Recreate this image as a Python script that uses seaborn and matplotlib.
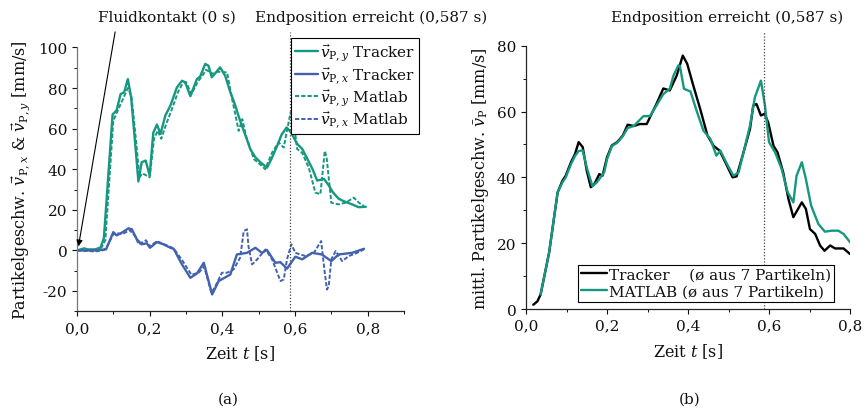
import matplotlib
matplotlib.use("Agg")
import matplotlib.pyplot as plt
import pandas as pd
import seaborn as sns
from matplotlib.ticker import MultipleLocator, FixedLocator, FixedFormatter

# ---------------------------------------------------------------- data
# (a) single particle, velocity components [mm/s] over time [s]
t_vy_tracker = [0.0, 0.02, 0.03, 0.05, 0.065, 0.074, 0.098, 0.109, 0.12, 0.13, 0.14,
                0.149, 0.16, 0.169, 0.178, 0.189, 0.2, 0.21, 0.22, 0.23, 0.243, 0.257,
                0.275, 0.289, 0.298, 0.312, 0.33, 0.339, 0.353, 0.362, 0.371, 0.381,
                0.394, 0.408, 0.422, 0.436, 0.445, 0.454, 0.465, 0.477, 0.491, 0.505,
                0.523, 0.535, 0.551, 0.563, 0.577, 0.589, 0.606, 0.62, 0.634, 0.648,
                0.661, 0.68, 0.693, 0.705, 0.72, 0.735, 0.757, 0.775, 0.795]
vy_tracker = [0.0, 1.0, 0.5, 0.5, 1.5, 6.0, 67.0, 69.0, 77.0, 78.0, 84.4,
              75.4, 53.0, 34.0, 43.4, 44.3, 37.0, 58.0, 62.0, 57.4, 66.4, 71.3,
              80.3, 83.6, 82.8, 76.0, 84.4, 85.7, 91.9, 91.0, 85.3, 87.4,
              90.2, 86.0, 78.0, 71.3, 66.0, 61.4, 56.0, 49.9, 45.9, 43.4,
              40.8, 45.0, 51.5, 57.0, 60.6, 58.2, 52.5, 50.0, 45.1, 40.2,
              34.4, 35.2, 32.0, 28.5, 25.5, 24.2, 22.7, 21.3, 21.5]

t_vy_matlab = [0.0, 0.03, 0.05, 0.065, 0.078, 0.1, 0.11, 0.125, 0.14, 0.15, 0.162,
               0.172, 0.18, 0.19, 0.2, 0.212, 0.222, 0.232, 0.245, 0.26, 0.278, 0.29,
               0.3, 0.315, 0.332, 0.345, 0.355, 0.365, 0.375, 0.385, 0.395, 0.413,
               0.427, 0.445, 0.455, 0.465, 0.487, 0.509, 0.518, 0.537, 0.555, 0.569,
               0.578, 0.588, 0.594, 0.606, 0.62, 0.638, 0.656, 0.67, 0.677, 0.682,
               0.687, 0.7, 0.72, 0.739, 0.762, 0.776, 0.79]
vy_matlab = [0.0, 0.0, -0.5, 0.5, 5.0, 64.0, 68.0, 74.0, 80.0, 76.0, 55.0,
             36.0, 38.0, 37.0, 36.0, 55.0, 59.0, 55.0, 62.0, 69.0, 78.0, 82.0,
             83.0, 77.0, 83.0, 86.0, 89.0, 88.0, 87.0, 88.0, 88.0, 87.7,
             74.6, 58.9, 64.7, 56.5, 45.0, 41.6, 40.0, 48.2, 53.2, 50.7,
             59.0, 68.0, 67.0, 50.0, 48.0, 40.8, 28.5, 27.7, 40.0, 49.0,
             46.0, 23.5, 22.7, 23.5, 26.0, 23.5, 21.9]

t_vx_tracker = [0.0, 0.05, 0.07, 0.08, 0.1, 0.109, 0.123, 0.142, 0.151, 0.165, 0.178,
                0.192, 0.201, 0.22, 0.238, 0.257, 0.266, 0.289, 0.312, 0.33, 0.349,
                0.372, 0.39, 0.422, 0.44, 0.468, 0.491, 0.509, 0.523, 0.546, 0.56,
                0.578, 0.601, 0.62, 0.647, 0.674, 0.7, 0.72, 0.757, 0.79]
vx_tracker = [0.0, 0.0, 0.3, 0.5, 9.0, 7.4, 8.7, 10.9, 10.4, 5.4, 3.0,
              3.5, 1.3, 4.1, 3.0, 1.3, 0.8, -6.9, -13.5, -11.4, -6.1,
              -21.7, -15.1, -11.9, -2.0, -1.2, 1.3, -1.2, 0.2, -6.1, -5.8,
              -9.0, -3.1, -4.4, -1.2, -2.0, -5.3, -2.0, -1.2, 0.8]

t_vx_matlab = [0.0, 0.05, 0.07, 0.08, 0.1, 0.11, 0.125, 0.145, 0.16, 0.17, 0.19,
               0.2, 0.22, 0.24, 0.26, 0.27, 0.29, 0.315, 0.335, 0.35, 0.37, 0.381,
               0.399, 0.413, 0.431, 0.449, 0.459, 0.468, 0.472, 0.482, 0.496, 0.519,
               0.537, 0.56, 0.569, 0.578, 0.59, 0.601, 0.629, 0.652, 0.672, 0.682,
               0.688, 0.693, 0.7, 0.712, 0.73, 0.748, 0.771, 0.79]
vx_matlab = [0.0, -0.5, 0.0, 1.0, 8.0, 8.5, 8.0, 10.0, 7.0, 3.0, 5.0,
             2.0, 4.5, 3.0, 1.5, 0.0, -5.0, -12.0, -11.0, -8.0, -21.0, -17.6,
             -11.0, -11.0, -9.4, -3.6, 9.5, 10.4, 2.0, -6.9, -4.4, 0.5,
             -4.4, -15.1, -14.3, -4.4, 3.0, -1.2, -2.8, -1.2, 4.6, -11.0,
             -19.3, -17.6, -4.4, -0.3, -5.3, -2.8, -1.2, 0.5]

# (b) mean particle speed (7 particles) [mm/s]
t_mean_tracker = [0.018, 0.028, 0.036, 0.057, 0.078, 0.09, 0.098, 0.111, 0.121, 0.13,
                  0.14, 0.15, 0.16, 0.169, 0.181, 0.189, 0.2, 0.212, 0.225, 0.239,
                  0.251, 0.266, 0.281, 0.298, 0.322, 0.339, 0.355, 0.372, 0.387,
                  0.398, 0.413, 0.43, 0.448, 0.463, 0.478, 0.494, 0.51, 0.52, 0.537,
                  0.553, 0.561, 0.569, 0.58, 0.589, 0.598, 0.611, 0.621, 0.635,
                  0.648, 0.66, 0.681, 0.691, 0.701, 0.714, 0.726, 0.737, 0.751,
                  0.763, 0.784, 0.8]
mean_tracker = [1.3, 2.3, 4.4, 17.1, 35.4, 39.0, 40.5, 44.6, 47.1, 50.7,
                49.2, 42.0, 37.0, 38.0, 41.0, 40.5, 46.1, 49.7, 50.7, 52.7,
                56.0, 55.6, 56.2, 56.2, 62.3, 67.0, 66.4, 70.9, 77.0,
                74.5, 67.9, 60.8, 52.7, 49.6, 48.1, 44.1, 40.0, 40.3, 47.6,
                54.7, 61.8, 62.3, 58.8, 59.3, 56.7, 49.6, 47.6, 41.5,
                33.4, 27.9, 32.4, 30.4, 24.3, 22.8, 19.3, 17.7, 19.3,
                18.4, 18.4, 16.7]

t_mean_matlab = [0.036, 0.057, 0.078, 0.09, 0.098, 0.111, 0.121, 0.13, 0.14, 0.15,
                 0.164, 0.175, 0.193, 0.2, 0.212, 0.225, 0.239, 0.251, 0.266, 0.29,
                 0.306, 0.322, 0.339, 0.355, 0.364, 0.376, 0.38, 0.39, 0.406, 0.421,
                 0.438, 0.455, 0.47, 0.48, 0.496, 0.512, 0.525, 0.553, 0.565, 0.58,
                 0.59, 0.6, 0.615, 0.631, 0.646, 0.66, 0.668, 0.681, 0.691, 0.704,
                 0.722, 0.738, 0.755, 0.771, 0.784, 0.8]
mean_matlab = [4.4, 17.1, 35.4, 38.5, 40.0, 44.0, 46.5, 48.0, 48.2, 43.0,
               37.3, 38.5, 41.5, 45.5, 49.5, 50.5, 52.5, 55.0, 55.6, 58.6,
               58.6, 61.8, 65.3, 66.9, 70.9, 74.0, 73.8, 66.9, 66.1, 60.3,
               54.2, 51.7, 46.6, 48.1, 44.1, 40.5, 41.5, 55.7, 64.3, 69.4,
               61.8, 50.7, 47.6, 42.6, 35.5, 32.4, 40.5, 44.6, 39.5, 31.4,
               25.8, 23.5, 23.8, 23.8, 22.8, 20.3]

END_T = 0.587          # end position reached [s]
x_ticks = [0.0, 0.2, 0.4, 0.6, 0.8]
x_ticklabels = ["0,0", "0,2", "0,4", "0,6", "0,8"]
ya_ticks = [-20, 0, 20, 40, 60, 80, 100]
yb_ticks = [0, 20, 40, 60, 80]

TEAL = "#16977f"
BLUE = "#4262b0"
BLACK = "#000000"

# ---------------------------------------------------------------- style
sns.set_theme(style="ticks")
plt.rcParams["font.family"] = ["DejaVu Serif"]
plt.rcParams["mathtext.fontset"] = "dejavuserif"
FS = 11
plt.rcParams.update({
    "font.size": FS,
    "axes.labelsize": FS + 0.5,
    "xtick.labelsize": FS,
    "ytick.labelsize": FS,
    "axes.unicode_minus": False,
    "xtick.direction": "out",
    "ytick.direction": "out",
    "xtick.major.size": 3.5,
    "ytick.major.size": 3.5,
    "xtick.minor.size": 2.0,
    "ytick.minor.size": 2.0,
    "xtick.major.width": 0.8,
    "ytick.major.width": 0.8,
    "xtick.minor.width": 0.7,
    "ytick.minor.width": 0.7,
    "axes.linewidth": 0.9,
    "text.color": "#111111",
    "axes.labelcolor": "#111111",
    "xtick.color": "#111111",
    "ytick.color": "#111111",
})

fig = plt.figure(figsize=(8.68, 4.14), dpi=100)
ax_a = fig.add_axes([0.0887, 0.2457, 0.3767, 0.6372])
ax_b = fig.add_axes([0.6060, 0.2512, 0.3733, 0.6360])

DASH = (0, (2.2, 1.0))

def draw(ax, t, v, color, lw, ls="-", label=None):
    df = pd.DataFrame({"t": t, "v": v})
    sns.lineplot(data=df, x="t", y="v", ax=ax, color=color, lw=lw,
                 linestyle=ls, label=label, legend=False, sort=True)

# ---------------------------------------------------------------- (a)
draw(ax_a, t_vy_tracker, vy_tracker, TEAL, 1.7, "-", r"$\vec{v}_{\mathrm{P},y}$ Tracker")
draw(ax_a, t_vx_tracker, vx_tracker, BLUE, 1.7, "-", r"$\vec{v}_{\mathrm{P},x}$ Tracker")
draw(ax_a, t_vy_matlab, vy_matlab, TEAL, 1.4, DASH, r"$\vec{v}_{\mathrm{P},y}$ Matlab")
draw(ax_a, t_vx_matlab, vx_matlab, BLUE, 1.4, DASH, r"$\vec{v}_{\mathrm{P},x}$ Matlab")

ax_a.set_xlim(0, 0.9)
ax_a.set_ylim(-30, 100)
ax_a.axvline(END_T, ymin=0, ymax=1.059, color="#444444", lw=0.9, ls=(0, (1, 1.5)),
             clip_on=False)
ax_a.annotate("", xy=(0.004, 2.0), xytext=(0.105, 107.7),
              arrowprops=dict(arrowstyle="-|>", color="black", lw=0.8,
                              mutation_scale=9, shrinkA=0, shrinkB=0),
              annotation_clip=False)

ax_a.xaxis.set_major_locator(FixedLocator(x_ticks))
ax_a.xaxis.set_major_formatter(FixedFormatter(x_ticklabels))
ax_a.xaxis.set_minor_locator(MultipleLocator(0.1))
ax_a.yaxis.set_major_locator(FixedLocator(ya_ticks))
ax_a.yaxis.set_minor_locator(MultipleLocator(10))
ax_a.set_xlabel(r"Zeit $t$ [s]", labelpad=6)
ax_a.set_ylabel(r"Partikelgeschw. $\vec{v}_{\mathrm{P},x}$ & $\vec{v}_{\mathrm{P},y}$ [mm/s]",
                labelpad=4)
ax_a.spines["left"].set_color("#777777")

leg_a = ax_a.legend(loc="upper right", bbox_to_anchor=(0.4827, 0.9058),
                    bbox_transform=fig.transFigure, frameon=True, fancybox=False,
                    edgecolor="black", framealpha=1, fontsize=FS,
                    handlelength=1.5, handletextpad=0.15, labelspacing=0.05,
                    borderpad=0.25, borderaxespad=0)
leg_a.get_frame().set_linewidth(0.8)

# ---------------------------------------------------------------- (b)
draw(ax_b, t_mean_tracker, mean_tracker, BLACK, 1.7, "-",
     "Tracker    (ø aus 7 Partikeln)")
draw(ax_b, t_mean_matlab, mean_matlab, TEAL, 1.7, "-",
     "MATLAB (ø aus 7 Partikeln)")
ax_b.set_xlim(0, 0.8)
ax_b.set_ylim(0, 80)
ax_b.axvline(END_T, ymin=0, ymax=1.056, color="#444444", lw=0.9, ls=(0, (1, 1.5)),
             clip_on=False)
ax_b.xaxis.set_major_locator(FixedLocator(x_ticks))
ax_b.xaxis.set_major_formatter(FixedFormatter(x_ticklabels))
ax_b.xaxis.set_minor_locator(MultipleLocator(0.1))
ax_b.yaxis.set_major_locator(FixedLocator(yb_ticks))
ax_b.yaxis.set_minor_locator(MultipleLocator(10))
ax_b.set_xlabel(r"Zeit $t$ [s]", labelpad=6)
ax_b.set_ylabel(r"mittl. Partikelgeschw. $\bar{v}_{\mathrm{P}}$ [mm/s]", labelpad=4)

leg_b = ax_b.legend(loc="lower right", bbox_to_anchor=(0.951, 0.027),
                    frameon=True, fancybox=False, edgecolor="black", framealpha=1,
                    fontsize=FS, handlelength=1.7, handletextpad=0.15,
                    labelspacing=0.2, borderpad=0.2, borderaxespad=0)
leg_b.get_frame().set_linewidth(0.8)

for ax in (ax_a, ax_b):
    sns.despine(ax=ax)

# ---------------------------------------------------------------- annotations
fig.text(167 / 868, 1 - 18 / 414, "Fluidkontakt (0 s)", ha="center", va="center",
         fontsize=FS)
fig.text(371 / 868, 1 - 18 / 414, "Endposition erreicht (0,587 s)", ha="center",
         va="center", fontsize=FS)
fig.text(727 / 868, 1 - 18 / 414, "Endposition erreicht (0,587 s)", ha="center",
         va="center", fontsize=FS)
fig.text(228 / 868, 1 - 400 / 414, "(a)", ha="center", va="center", fontsize=FS)
fig.text(690 / 868, 1 - 400 / 414, "(b)", ha="center", va="center", fontsize=FS)

fig.savefig("out.png", dpi=100)
